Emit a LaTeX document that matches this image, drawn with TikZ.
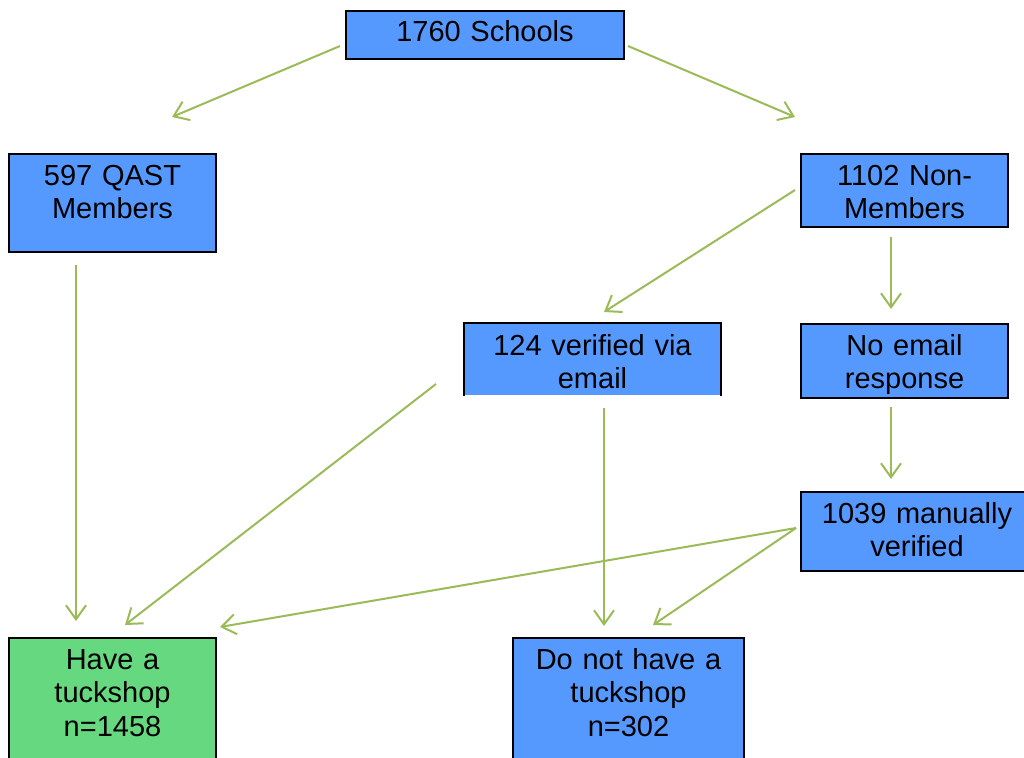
\documentclass[tikz,border=0pt]{standalone}
\usepackage{fontspec}
\setmainfont{Liberation Sans}
\usetikzlibrary{arrows.meta}
\definecolor{boxblue}{RGB}{85,153,255}
\definecolor{boxgreen}{RGB}{102,217,128}
\definecolor{arrowgreen}{RGB}{155,187,89}
\begin{document}
\begin{tikzpicture}[x=1pt,y=-1pt,
  box/.style={draw=black, line width=2pt, fill=boxblue, inner sep=0pt,
    anchor=north west, align=center, font=\fontsize{29}{33.5}\selectfont,
    text height=31pt},
  flow/.style={draw=arrowgreen, line width=2pt,
    -{Straight Barb[length=14pt,width=20pt]}}]
\fill[white] (0,0) rectangle (1024,757);
\useasboundingbox (0,0) rectangle (1024,757);

\node[box, text width=278pt, text depth=17pt] (top) at (345,10) {1760 Schools};
\node[box, text width=207pt, text depth=67pt] (qast) at (8,153) {597 QAST\\Members};
\node[box, text width=207pt, text depth=42pt] (non) at (800,153) {1102 Non-\\Members};
\node[box, draw=none, text width=255pt, text depth=40pt] (v124) at (464,323) {124 verified via\\email};
\draw[line width=2pt, line join=miter] (v124.south west) -- (v124.north west) -- (v124.north east) -- (v124.south east);
\node[box, text width=207pt, text depth=43pt] (noemail) at (800,323) {No email\\response};
\node[box, text width=232pt, text depth=48pt] (manual) at (800,491) {1039 manually\\verified};
\node[box, fill=boxgreen, text width=207pt, text depth=109pt] (have) at (8,637) {Have a\\tuckshop\\n=1458};
\node[box, text width=231pt, text depth=109pt] (donot) at (512,637) {Do not have a\\tuckshop\\n=302};

\coordinate (s1) at (340,46);  \coordinate (e1) at (172,117);
\coordinate (s2) at (628,46);  \coordinate (e2) at (795,117);
\coordinate (s3) at (795,190); \coordinate (e3) at (604,312);
\coordinate (s4) at (891,237); \coordinate (e4) at (891,309);
\coordinate (s5) at (891,407); \coordinate (e5) at (891,479);
\coordinate (s6) at (76,265);  \coordinate (e6) at (76,621);
\coordinate (s7) at (436,384); \coordinate (e7) at (125,625);
\coordinate (s8) at (604,408); \coordinate (e8) at (604,626);
\coordinate (s9) at (796,528); \coordinate (e9) at (220,627);
\coordinate (e10) at (653,625);

\draw[flow] (s1) -- (e1);
\draw[flow] (s2) -- (e2);
\draw[flow] (s3) -- (e3);
\draw[flow] (s4) -- (e4);
\draw[flow] (s5) -- (e5);
\draw[flow] (s6) -- (e6);
\draw[flow] (s7) -- (e7);
\draw[flow] (s8) -- (e8);
\draw[flow] (s9) -- (e9);
\draw[flow] (s9) -- (e10);
\end{tikzpicture}
\end{document}
